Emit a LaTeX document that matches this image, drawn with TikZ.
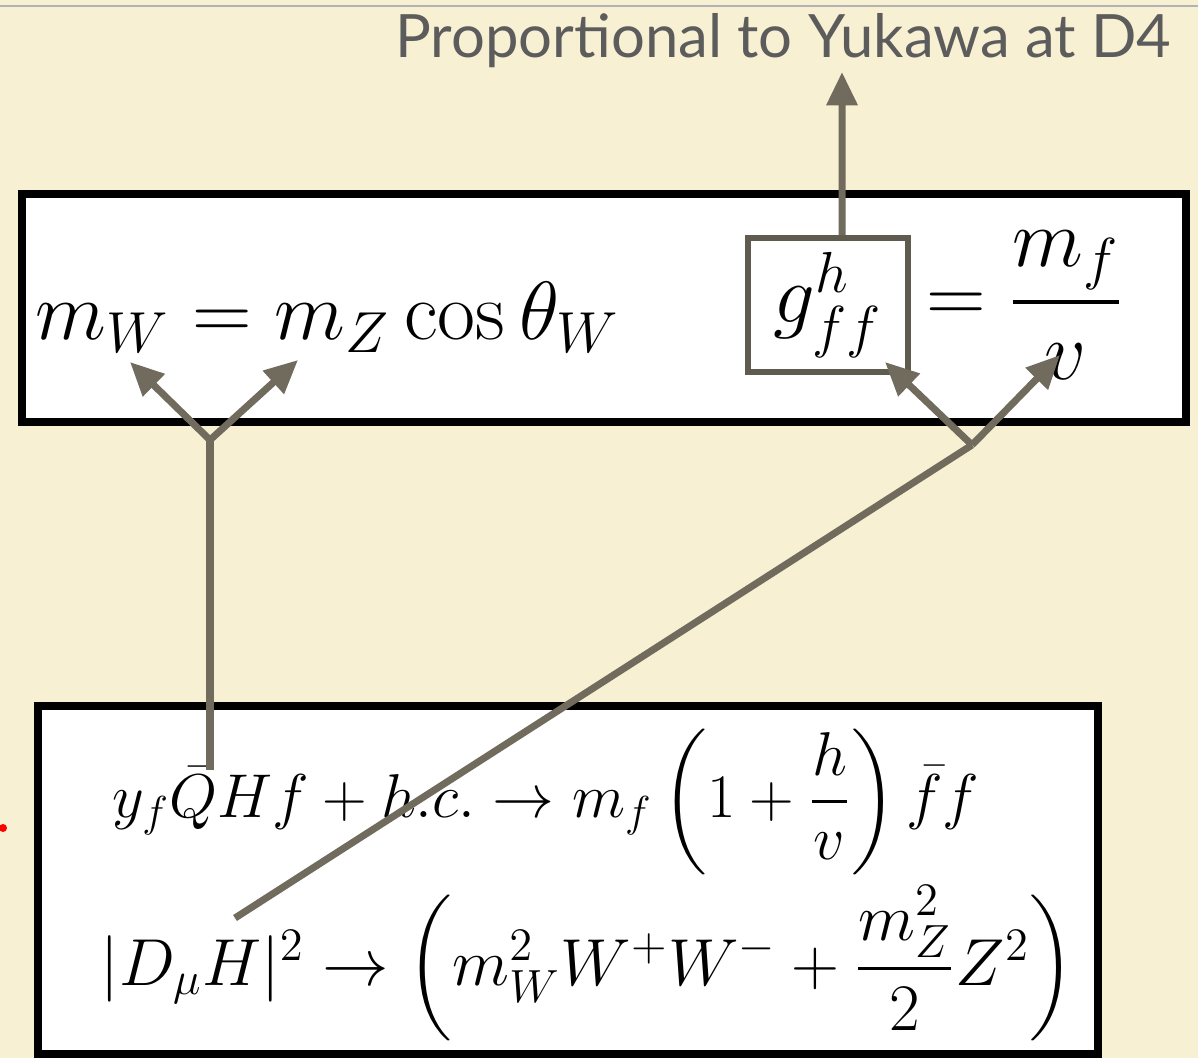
\RequirePackage{fix-cm}
\documentclass[tikz,border=0pt]{standalone}
\usepackage{amsmath}
\usepackage{fontspec}
\newfontfamily\labelfont{Lato}
\usepackage{xcolor}
\definecolor{PaperBeige}{RGB}{248,240,210}
\definecolor{ArrowGray}{RGB}{112,107,93}
\definecolor{LabelGray}{RGB}{92,92,92}
\usetikzlibrary{positioning, arrows.meta}

\begin{document}
\begin{tikzpicture}[x=0.01cm, y=-0.01cm,
    eqbox/.style={draw=black, line width=2.3pt, fill=white, inner sep=0pt},
    bigmath/.style={font=\fontsize{23.5}{28}\selectfont, inner sep=0pt},
    pointer/.style={draw=ArrowGray, line width=2pt, -{Triangle[length=9.5pt,width=8.5pt]}},
    feed/.style={draw=ArrowGray, line width=2pt}]
    \useasboundingbox (0,0) rectangle (1198,1058);
    % Hintergrund
    \fill[PaperBeige] (0,0) rectangle (1198,1058);
    \draw[gray!60, line width=0.8pt] (0,6) -- (1198,6);
    \fill[red] (3,828) circle (4);
    % Kästen
    \node[eqbox, minimum width=11.64cm, minimum height=2.27cm] (topbox) at (604,308) {};
    \node[eqbox, minimum width=10.6cm, minimum height=3.48cm] (lowbox) at (568,880) {};
    % Obere Gleichungen
    \node[bigmath, anchor=base west] (mweq) at (35,340) {$m_W = m_Z\cos\theta_W$};
    \node[draw=ArrowGray!85!black, line width=1.8pt, minimum width=1.6cm, minimum height=1.34cm,
          font=\fontsize{23.5}{28}\selectfont] (gbox) at (828,305) {$g^h_{ff}$};
    \node[bigmath, right=4pt of gbox] (mfeq) {$=\dfrac{m_f}{v}$};
    % Untere Gleichungen
    \node[font=\fontsize{17.6}{21}\selectfont, inner sep=0pt, anchor=base west] (yukeq) at (112,817)
        {$y_f\bar{Q}Hf + h.c. \to m_f\left(1+\dfrac{h}{v}\right)\bar{f}f$};
    \node[font=\fontsize{18.9}{22}\selectfont, inner sep=0pt, anchor=base west] (dmueq) at (100,985)
        {$|D_\mu H|^2 \to \biggl(m_W^2W^+W^- + \dfrac{m_Z^2}{2}Z^2\biggr)$};
    % Beschriftung
    \node[font=\labelfont\fontsize{17}{20}\selectfont, text=LabelGray, anchor=base east, inner sep=0pt]
        (yukawa) at (1172,58) {Proportional to Yukawa at D4};
    % Verbindungen
    \coordinate (yuktip) at (842,72);
    \coordinate (wjoin) at (210,440);
    \coordinate (fjoin) at (972,445);
    \coordinate (mwtip) at (130,362);
    \coordinate (mztip) at (298,360);
    \coordinate (gtip) at (885,362);
    \coordinate (vtip) at (1060,355);
    \coordinate (qbar) at (210,770);
    \coordinate (dmu) at (235,918);
    \draw[pointer] ([xshift=0.14cm]gbox.north) -- (yuktip);
    \draw[feed] (qbar) -- (wjoin);
    \draw[pointer] (wjoin) -- (mwtip);
    \draw[pointer] (wjoin) -- (mztip);
    \draw[feed] (dmu) -- (fjoin);
    \draw[pointer] (fjoin) -- (gtip);
    \draw[pointer] (fjoin) -- (vtip);
\end{tikzpicture}
\end{document}
